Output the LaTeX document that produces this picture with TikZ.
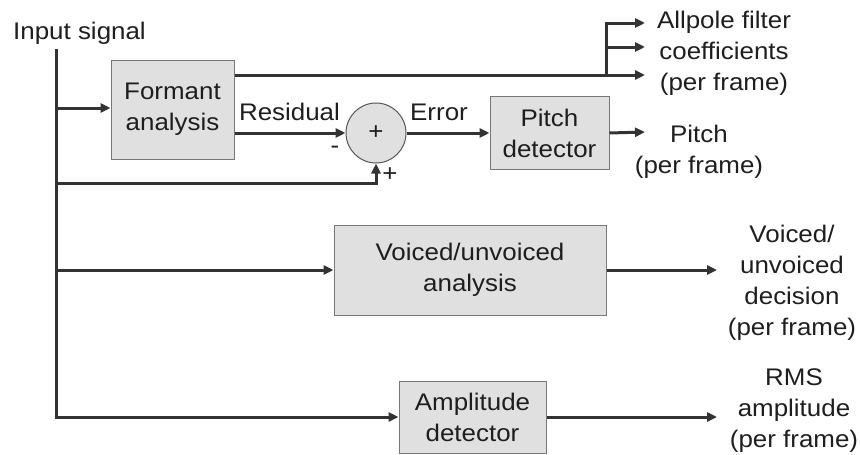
\documentclass[tikz,border=0pt]{standalone}
\usepackage{fontspec}
\setmainfont{Liberation Sans}[FakeStretch=1.08]
\usetikzlibrary{arrows.meta}
\definecolor{linec}{HTML}{333333}
\definecolor{boxfill}{HTML}{E0E0E0}
\definecolor{boxline}{HTML}{777777}
\definecolor{circline}{HTML}{555555}
\definecolor{txt}{HTML}{1E1E1E}
\begin{document}
\begin{tikzpicture}[x=1pt,y=-1pt,
  font=\fontsize{24}{31}\selectfont, text=txt,
  blk/.style={draw=boxline, line width=1pt, fill=boxfill, align=center, inner sep=0pt},
  sumnode/.style={circle, draw=circline, line width=1pt, fill=boxfill, minimum size=60pt, inner sep=0pt},
  wire/.style={draw=linec, line width=3pt},
  arr/.style={wire, -{Triangle[length=10pt,width=9pt]}},
  lbl/.style={align=center, inner sep=0pt}]
\useasboundingbox (0,0) rectangle (860,455);

% blocks
\node[blk, minimum width=123pt, minimum height=99pt] (fa) at (172.5,109.5) {Formant\\analysis};
\node[sumnode] (sum) at (376,133) {+};
\node[blk, minimum width=119pt, minimum height=73pt] (pd) at (549.5,133) {Pitch\\detector};
\node[blk, minimum width=272pt, minimum height=90pt] (vu) at (470,270) {Voiced/unvoiced\\analysis};
\node[blk, minimum width=147pt, minimum height=72pt] (ad) at (472.5,417) {Amplitude\\detector};

% labels
\node[lbl, anchor=base] (insig) at (79.5,39) {Input signal};
\node[lbl, anchor=base] (res) at (289.5,120) {Residual};
\node[lbl, anchor=base] (err) at (439,120) {Error};
\node[lbl] (minus) at (335,150) {-};
\node[lbl] (plus) at (390,175) {+};
\node[lbl] (apf) at (724,53) {Allpole filter\\coefficients\\(per frame)};
\node[lbl] (pit) at (699,151.5) {Pitch\\(per frame)};
\node[lbl] (vud) at (792,282.5) {Voiced/\\unvoiced\\decision\\(per frame)};
\node[lbl] (rms) at (794,411) {RMS\\amplitude\\(per frame)};

% junction coordinates
\coordinate (top) at (56,49);
\coordinate (j1) at (56,108);
\coordinate (j2) at (56,183);
\coordinate (j3) at (56,270);
\coordinate (br) at (606,75);
\coordinate (o1) at (645,23);
\coordinate (o2) at (645,47);
\coordinate (o3) at (645,75);
\coordinate (po) at (645,132);
\coordinate (vo) at (717,270);
\coordinate (ao) at (717,417);

% wires
\draw[arr] (top) |- (ad.west);
\draw[arr] (j1) -- (j1 -| fa.west);
\draw[arr] (j2) -| (sum.south);
\draw[arr] (j3) -- (vu.west);
\draw[arr] (fa.east |- o3) -- (o3);
\draw[arr] (br) |- (o1);
\draw[arr] (br |- o2) -- (o2);
\draw[arr] (fa.east |- sum.west) -- (sum.west);
\draw[arr] (sum.east) -- (pd.west);
\draw[arr] (pd.east) -- (po);
\draw[arr] (vu.east) -- (vo);
\draw[arr] (ad.east) -- (ao);
\end{tikzpicture}
\end{document}
